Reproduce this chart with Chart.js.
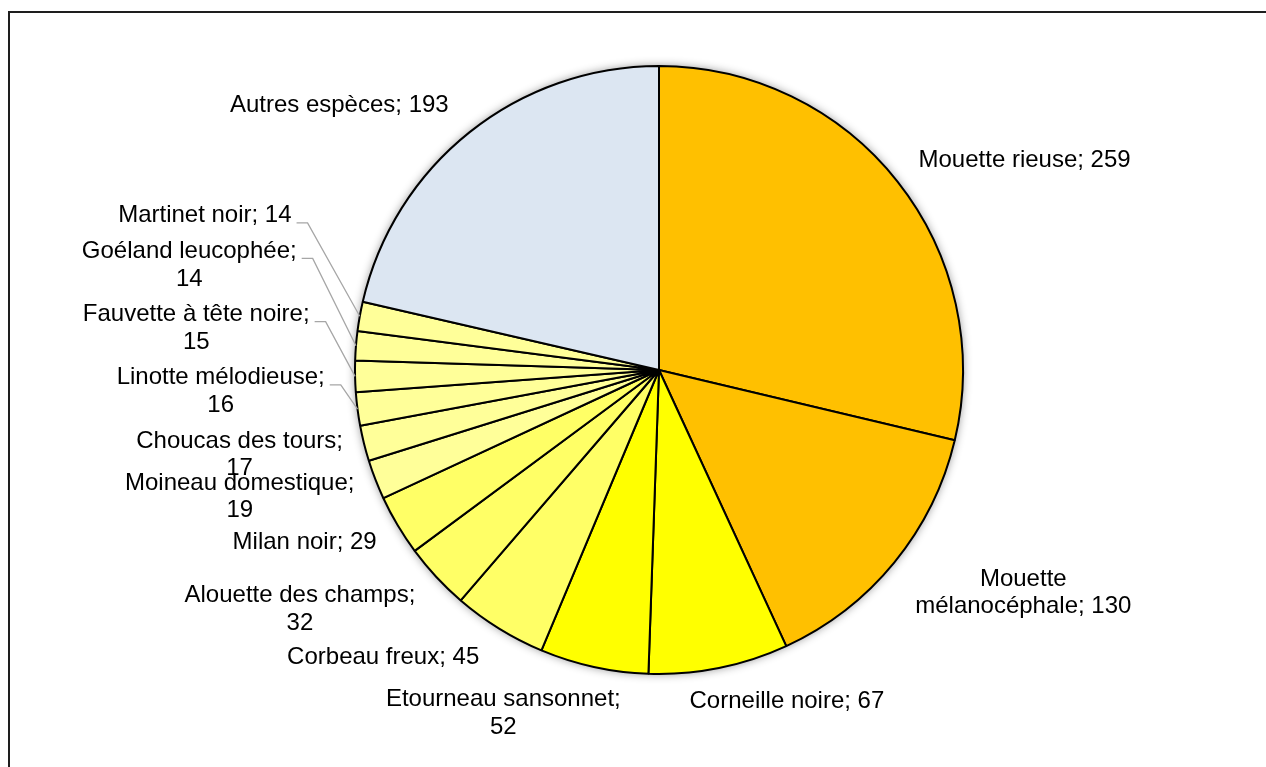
<!DOCTYPE html>
<html lang="fr">
<head>
<meta charset="utf-8">
<title>Espèces observées</title>
<script src="https://cdn.jsdelivr.net/npm/chart.js@4.4.1/dist/chart.umd.min.js"></script>
<style>
  html, body { margin: 0; padding: 0; background: #fff; overflow: hidden; }
  #wrap { position: relative; width: 1266px; height: 767px; }
  #frame {
    position: absolute; left: 8px; top: 11px; width: 1320px; height: 820px;
    border: 2px solid #1e1e1e; box-sizing: border-box; pointer-events: none;
  }
</style>
</head>
<body>
<div id="wrap">
  <canvas id="pieChart" width="1266" height="767"></canvas>
  <div id="frame"></div>
</div>
<script>
// Données du graphique
const especes = [
  "Mouette rieuse", "Mouette mélanocéphale", "Corneille noire", "Etourneau sansonnet",
  "Corbeau freux", "Alouette des champs", "Milan noir", "Moineau domestique",
  "Choucas des tours", "Linotte mélodieuse", "Fauvette à tête noire",
  "Goéland leucophée", "Martinet noir", "Autres espèces"
];
const effectifs = [259, 130, 67, 52, 45, 32, 29, 19, 17, 16, 15, 14, 14, 193];

// Couleurs des parts
const couleurs = [
  "#FFC000", "#FFC000", "#FFFF00", "#FFFF00", "#FFFF66", "#FFFF66", "#FFFF66",
  "#FFFF99", "#FFFF99", "#FFFF99", "#FFFF99", "#FFFF99", "#FFFF99", "#DCE6F2"
];

const POLICE = '24px "Liberation Sans", Arial, sans-serif';
const HAUTEUR_LIGNE = 27.6;
const LARGEUR_MAX = 240;
const ECART_X = 21;     // distance horizontale entre le bord et l'étiquette
const ECART_Y = 20;
const TOLERANCE = 14;   // chevauchement accepté avant de décaler
const MARGE = 8;        // espace entre étiquettes décalées

function couper(ctx, texte, maxW) {
  const mots = texte.split(" ");
  const lignes = [];
  let courante = "";
  mots.forEach(m => {
    const essai = courante ? courante + " " + m : m;
    if (courante && ctx.measureText(essai).width > maxW) {
      lignes.push(courante);
      courante = m;
    } else {
      courante = essai;
    }
  });
  if (courante) lignes.push(courante);
  return lignes;
}

// Ombre légère sous le camembert
const ombrePlugin = {
  id: "ombre",
  beforeDatasetsDraw(chart) {
    const arc = chart.getDatasetMeta(0).data[0];
    if (!arc) return;
    const p = arc.getProps(["x", "y", "outerRadius"], true);
    const ctx = chart.ctx;
    ctx.save();
    ctx.shadowColor = "rgba(0,0,0,0.45)";
    ctx.shadowBlur = 10;
    ctx.fillStyle = "#fff";
    ctx.beginPath();
    ctx.arc(p.x, p.y, p.outerRadius, 0, Math.PI * 2);
    ctx.fill();
    ctx.restore();
  }
};

// Étiquettes "nom; valeur" à l'extérieur, avec traits de rappel
const etiquettesPlugin = {
  id: "etiquettes",
  afterDatasetsDraw(chart) {
    const ctx = chart.ctx;
    const meta = chart.getDatasetMeta(0);
    const valeurs = chart.data.datasets[0].data;
    ctx.save();
    ctx.font = POLICE;

    const boites = meta.data.map((arc, i) => {
      const p = arc.getProps(["x", "y", "startAngle", "endAngle", "outerRadius"], true);
      const mid = (p.startAngle + p.endAngle) / 2;
      const cos = Math.cos(mid), sin = Math.sin(mid);
      const lignes = couper(ctx, chart.data.labels[i] + "; " + valeurs[i], LARGEUR_MAX);
      const w = Math.max(...lignes.map(l => ctx.measureText(l).width));
      const h = lignes.length * HAUTEUR_LIGNE;
      const ex = p.x + p.outerRadius * cos;
      const ey = p.y + p.outerRadius * sin;
      // près de la verticale, l'étiquette glisse vers l'extérieur
      const dx = Math.min(ECART_X, -29 + (Math.abs(cos) - 0.2) * 150);
      const left = cos >= 0 ? ex + dx : ex - dx - w;
      const top = ey + sin * (h / 2 + ECART_Y) - h / 2;
      return { lignes, w, h, left, top, topInit: top, gauche: cos < 0, ex, ey };
    });

    // décalage vers le haut des étiquettes qui se chevauchent à gauche
    const cote = boites.filter(b => b.gauche)
      .sort((a, b) => (b.top + b.h / 2) - (a.top + a.h / 2));
    for (let j = 1; j < cote.length; j++) {
      const dessous = cote[j - 1], b = cote[j];
      const horiz = b.left < dessous.left + dessous.w && dessous.left < b.left + b.w;
      if (horiz && b.top + b.h - dessous.top > TOLERANCE) {
        b.top = dessous.top - MARGE - b.h;
        b.left -= 0.5 * (b.topInit - b.top);
      }
    }

    boites.forEach(b => {
      if (b.topInit - b.top > 5) {
        const ly = b.top + HAUTEUR_LIGNE / 2 + 7;
        const lx = b.left + b.w + 5;
        ctx.strokeStyle = "#A6A6A6";
        ctx.lineWidth = 1.3;
        ctx.beginPath();
        ctx.moveTo(lx, ly);
        ctx.lineTo(lx + 11, ly);
        ctx.lineTo(b.ex, b.ey);
        ctx.stroke();
      }
      ctx.fillStyle = "#000";
      ctx.textAlign = "center";
      ctx.textBaseline = "middle";
      b.lignes.forEach((l, k) => {
        ctx.fillText(l, b.left + b.w / 2, b.top + HAUTEUR_LIGNE * (k + 0.5));
      });
    });
    ctx.restore();
  }
};

const ctx = document.getElementById("pieChart").getContext("2d");
new Chart(ctx, {
  type: "pie",
  data: {
    labels: especes,
    datasets: [{
      data: effectifs,
      backgroundColor: couleurs,
      borderColor: "#000",
      borderWidth: 2,
      radius: 304,
      offset: 0,
      hoverOffset: 0
    }]
  },
  options: {
    responsive: false,
    animation: false,
    layout: { padding: { left: 52, right: 0, top: 0, bottom: 27 } },
    plugins: {
      legend: { display: false },
      tooltip: { enabled: false }
    }
  },
  plugins: [ombrePlugin, etiquettesPlugin]
});
</script>
</body>
</html>
